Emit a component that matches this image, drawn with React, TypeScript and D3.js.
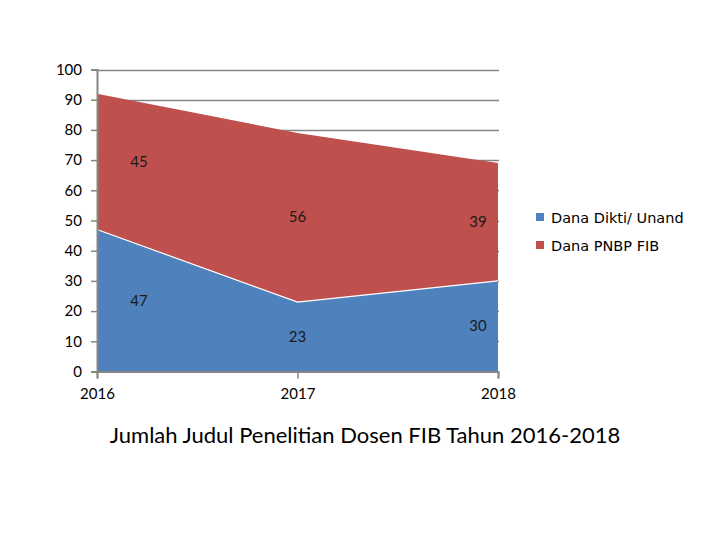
import React, { useEffect, useRef } from 'react';
import * as d3 from 'd3';

// chart data
const years = ['2016', '2017', '2018'];
const seriesNames = ['Dana Dikti/ Unand', 'Dana PNBP FIB'];
const danaDikti = [47, 23, 30];
const danaPnbp = [45, 56, 39];
const yTicks = [0, 10, 20, 30, 40, 50, 60, 70, 80, 90, 100];
const chartTitle = 'Jumlah Judul Penelitian Dosen FIB Tahun 2016-2018';

const App = () => {
    const svgRef = useRef<SVGSVGElement | null>(null);

    useEffect(() => {
        const width = 720;
        const height = 540;
        const left = 97;
        const right = 498;
        const top = 69.5;
        const bottom = 371.5;
        const colors = ['#4F81BD', '#C0504D'];
        const axisColor = '#868686';
        const labelFont = 'Lato, "Open Sans", sans-serif';

        const svg = d3.select(svgRef.current);
        svg.selectAll('*').remove();
        svg.attr('width', width).attr('height', height);

        const x = d3.scalePoint<string>().domain(years).range([left, right]);
        const y = d3.scaleLinear().domain([0, 100]).range([bottom, top]);

        const rows = years.map((yr, i) => ({ year: yr, dikti: danaDikti[i], pnbp: danaPnbp[i] }));
        const stacked = d3.stack<any>().keys(['dikti', 'pnbp'])(rows);

        // gridlines
        svg.append('g')
            .selectAll('line')
            .data(yTicks.filter(t => t > 0))
            .join('line')
            .attr('x1', left)
            .attr('x2', right + 1)
            .attr('y1', d => Math.round(y(d)) + 0.5)
            .attr('y2', d => Math.round(y(d)) + 0.5)
            .attr('stroke', axisColor)
            .attr('stroke-width', 1.5);

        const area = d3.area<any>()
            .x((d) => x(d.data.year) as number)
            .y0(d => y(d[0]))
            .y1(d => y(d[1]));

        svg.append('g')
            .selectAll('path')
            .data(stacked)
            .join('path')
            .attr('d', d => area(d) as string)
            .attr('fill', (d, i) => colors[i]);

        // thin white boundary between the two areas
        svg.append('path')
            .attr('d', d3.line<any>()
                .x(d => x(d.data.year) as number)
                .y(d => y(d[1]))(stacked[0]) as string)
            .attr('fill', 'none')
            .attr('stroke', '#ffffff')
            .attr('stroke-width', 1.2);

        // y axis
        const yAxis = svg.append('g')
            .attr('transform', `translate(${left}, 0)`)
            .call(d3.axisLeft(y).tickValues(yTicks).tickSize(6).tickPadding(9));
        yAxis.select('.domain').attr('stroke', axisColor).attr('stroke-width', 2);
        yAxis.selectAll('.tick line').attr('stroke', axisColor).attr('stroke-width', 1.5);
        yAxis.selectAll('.tick text')
            .attr('fill', '#000')
            .style('font-family', labelFont)
            .style('font-size', '15px');

        // x axis
        const xAxis = svg.append('g')
            .attr('transform', `translate(0, ${bottom})`)
            .call(d3.axisBottom(x).tickSize(7).tickPadding(10));
        xAxis.select('.domain').attr('stroke', axisColor).attr('stroke-width', 2);
        xAxis.selectAll('.tick line').attr('stroke', axisColor).attr('stroke-width', 1.5);
        xAxis.selectAll('.tick text')
            .attr('fill', '#000')
            .style('font-family', labelFont)
            .style('font-size', '15px');

        // data labels, placed like the original chart
        const labelShift = [42, 0, -20];
        stacked.forEach(s => {
            svg.append('g')
                .selectAll('text')
                .data(s)
                .join('text')
                .attr('x', (d, i) => (x(d.data.year) as number) + labelShift[i])
                .attr('y', d => y((d[0] + d[1]) / 2) + 5)
                .attr('text-anchor', 'middle')
                .style('font-family', labelFont)
                .style('font-size', '15px')
                .attr('fill', '#1a1a1a')
                .text(d => String(d[1] - d[0]));
        });

        // legend
        const legend = svg.append('g').attr('transform', 'translate(536, 213)');
        seriesNames.forEach((name, i) => {
            const row = legend.append('g').attr('transform', `translate(0, ${i * 28})`);
            row.append('rect')
                .attr('width', 8)
                .attr('height', 8)
                .attr('fill', colors[i]);
            row.append('text')
                .attr('x', 15)
                .attr('y', 10)
                .style('font-family', '"DejaVu Sans", sans-serif')
                .style('font-size', '14.5px')
                .attr('fill', '#000')
                .text(name);
        });

        // title below chart
        svg.append('text')
            .attr('x', 365)
            .attr('y', 443)
            .attr('text-anchor', 'middle')
            .style('font-family', labelFont)
            .style('font-size', '22px')
            .attr('fill', '#000')
            .text(chartTitle);
    }, []);

    return (
        <div style={{ position: 'absolute', left: 0, top: 0, width: 720, height: 540, background: '#fff' }}>
            <svg ref={svgRef} style={{ display: 'block' }}></svg>
        </div>
    );
};

export default App;
